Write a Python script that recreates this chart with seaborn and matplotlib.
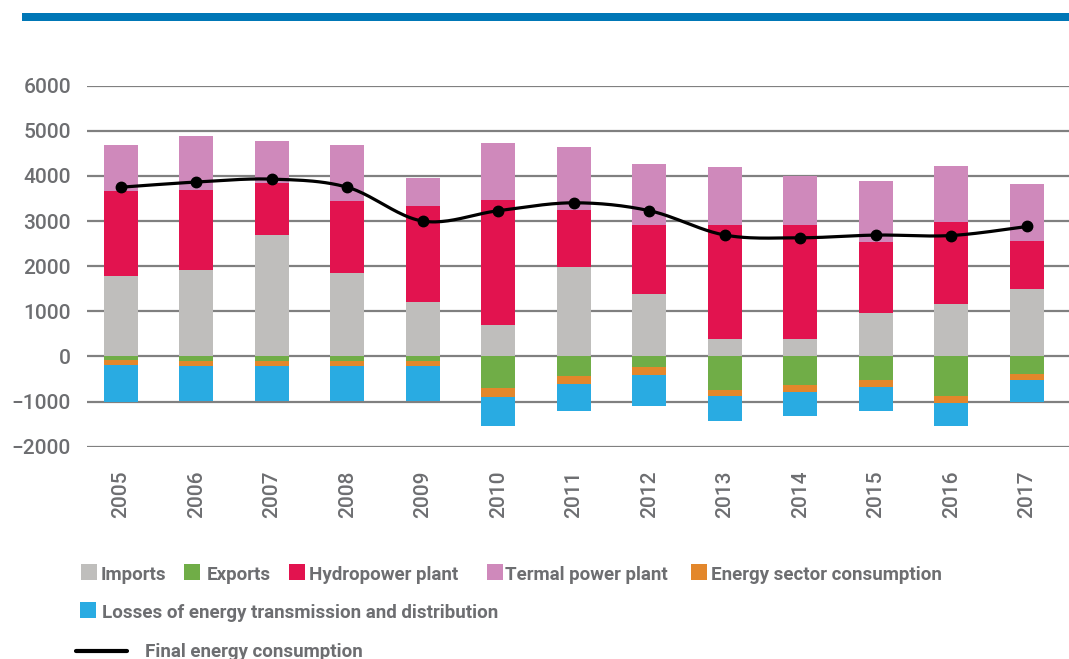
import numpy as np
import matplotlib
matplotlib.use("Agg")
import matplotlib.pyplot as plt
from matplotlib.patches import Rectangle
from matplotlib.lines import Line2D
import seaborn as sns

# données
years = [str(y) for y in range(2005, 2018)]
imports = [1785, 1920, 2690, 1850, 1200, 690, 1990, 1380, 380, 380, 960, 1160, 1490]
hydro = [1890, 1760, 1160, 1590, 2130, 2770, 1260, 1540, 2535, 2535, 1575, 1825, 1060]
thermal = [1000, 1195, 935, 1255, 625, 1280, 1385, 1345, 1280, 1085, 1360, 1230, 1275]
exports = [-70, -100, -100, -100, -100, -707, -443, -243, -738, -624, -525, -873, -394]
energy_sector = [-121, -121, -121, -121, -121, -186, -171, -157, -149, -156, -142, -169, -127]
losses = [-814, -771, -757, -757, -757, -647, -598, -688, -553, -532, -532, -495, -486]
final_consumption = [3750, 3865, 3930, 3750, 3000, 3230, 3405, 3230, 2690, 2630, 2690, 2680, 2880]

labels = ["Imports", "Exports", "Hydropower plant", "Termal power plant",
          "Energy sector consumption", "Losses of energy transmission and distribution",
          "Final energy consumption"]
colors = {"Imports": "#bfbebc", "Exports": "#70ad47", "Hydropower plant": "#e2134f",
          "Termal power plant": "#cf89bb", "Energy sector consumption": "#e3872b",
          "Losses of energy transmission and distribution": "#29abe2"}
text_grey = "#6d6e71"

sns.set_style("white")
plt.rcParams['font.family'] = ['Roboto', 'DejaVu Sans']

W, H = 1069, 659
fig = plt.figure(figsize=(W / 100, H / 100), dpi=100)
ax = fig.add_axes([87 / W, 1 - 446.7 / H, 1 - 87 / W, (446.7 - 85.7) / H])

imp = np.array(imports)
hyd = np.array(hydro)
ther = np.array(thermal)
exp_ = np.array(exports)
ene = np.array(energy_sector)
los = np.array(losses)

# empilement : on dessine les cumuls du plus grand au plus petit
layers = [
    (imp + hyd + ther, "Termal power plant"),
    (imp + hyd, "Hydropower plant"),
    (imp, "Imports"),
    (exp_ + ene + los, "Losses of energy transmission and distribution"),
    (exp_ + ene, "Energy sector consumption"),
    (exp_, "Exports"),
]
for vals, name in layers:
    sns.barplot(x=years, y=vals, color=colors[name], saturation=1, width=0.45,
                linewidth=0, errorbar=None, ax=ax)


# courbe lissée (Catmull-Rom) comme le lissage d'Excel
def smooth(xs, ys, n=25):
    xs = np.asarray(xs, float)
    ys = np.asarray(ys, float)
    px = np.concatenate([[xs[0]], xs, [xs[-1]]])
    py = np.concatenate([[ys[0]], ys, [ys[-1]]])
    out_x, out_y = [], []
    t = np.linspace(0, 1, n)
    for i in range(1, len(px) - 2):
        for p, out in ((px, out_x), (py, out_y)):
            p0, p1, p2, p3 = p[i - 1], p[i], p[i + 1], p[i + 2]
            out.extend(0.5 * (2 * p1 + (-p0 + p2) * t + (2 * p0 - 5 * p1 + 4 * p2 - p3) * t ** 2
                              + (-p0 + 3 * p1 - 3 * p2 + p3) * t ** 3))
    return out_x, out_y


xpos = np.arange(len(years))
sx, sy = smooth(xpos, final_consumption)
ax.plot(sx, sy, color="black", lw=2.3, zorder=5)
ax.plot(xpos, final_consumption, "o", color="black", ms=7.5, zorder=6)

ax.set_xlim(-0.446, 12.556)
ax.set_ylim(-2000, 6000)
ax.set_yticks(range(-2000, 6001, 1000))
ax.yaxis.grid(True, color="#808080", lw=1.6)
ax.xaxis.grid(False)
ax.set_axisbelow(True)
for s in ax.spines.values():
    s.set_visible(False)
ax.tick_params(axis="y", length=0, pad=11.5, labelsize=15, labelcolor=text_grey)
ax.tick_params(axis="x", length=0, pad=17, labelsize=15, labelcolor=text_grey, rotation=90)
for lab in ax.get_xticklabels() + ax.get_yticklabels():
    lab.set_fontweight("medium")
ax.set_xlabel("")
ax.set_ylabel("")

# bandeau bleu en haut
fig.add_artist(Rectangle((22 / W, 1 - 21.3 / H), 1 - 22 / W, 8 / H,
                         transform=fig.transFigure, color="#0077b6", lw=0))

# légende placée à la main comme dans l'original
patch_x = [81, 184, 289, 487, 691, 80]
text_x = [101, 207, 309, 505, 711, 102]
rows = [580, 580, 580, 580, 580, 618]
for name, xp, xt, yb in zip(labels[:6], patch_x, text_x, rows):
    fig.add_artist(Rectangle((xp / W, 1 - yb / H), 16 / W, 16 / H,
                             transform=fig.transFigure, color=colors[name], lw=0))
    fig.text(xt / W, 1 - yb / H, name, fontsize=13.5, fontweight="bold",
             color=text_grey, va="baseline", ha="left")
fig.add_artist(Line2D([76 / W, 127 / W], [1 - 650.7 / H] * 2, transform=fig.transFigure,
                      color="black", lw=3))
fig.text(145 / W, 1 - 657 / H, labels[6], fontsize=13.5, fontweight="bold",
         color=text_grey, va="baseline", ha="left")

fig.savefig("out.png", dpi=100)
